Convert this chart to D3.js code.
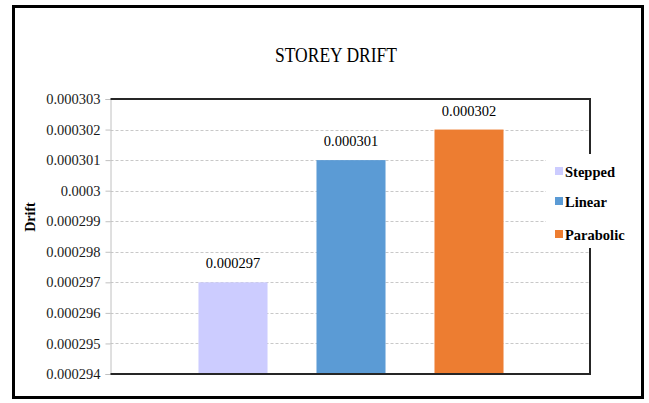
<!DOCTYPE html>
<html>
<head>
<meta charset="utf-8">
<script src="https://cdn.jsdelivr.net/npm/d3@7"></script>
<style>
  html, body { margin: 0; padding: 0; background: #fff; }
  svg { display: block; }
  svg text { font-family: "Liberation Serif", "Times New Roman", serif !important; fill: #000; }
</style>
</head>
<body>
<svg id="chart" width="649" height="403"></svg>
<script>
// Storey drift by profile type
const categories = ["Stepped", "Linear", "Parabolic"];
const drift = [0.000297, 0.000301, 0.000302];
const colors = ["#CCCCFF", "#5B9BD5", "#ED7D31"];
const tickValues = [0.000294, 0.000295, 0.000296, 0.000297, 0.000298, 0.000299, 0.0003, 0.000301, 0.000302, 0.000303];
const labelFmt = d => String(+d.toPrecision(6));

const svg = d3.select("#chart");

// outer frame
svg.append("rect")
  .attr("x", 13.5).attr("y", 6.5).attr("width", 629).attr("height", 391)
  .attr("fill", "#fff").attr("stroke", "#000").attr("stroke-width", 3);

const plot = { left: 110.5, right: 590, top: 99, bottom: 374 };

const y = d3.scaleLinear().domain([0.000294, 0.000303]).range([plot.bottom, plot.top]);
const x = d3.scaleBand().domain(categories).range([174, 528]).paddingInner(0.415).paddingOuter(0.2075);

// title
svg.append("text")
  .attr("x", 336).attr("y", 62)
  .attr("text-anchor", "middle")
  .attr("font-size", 20)
  .attr("textLength", 122).attr("lengthAdjust", "spacingAndGlyphs")
  .text("STOREY DRIFT");

// gridlines
svg.append("g")
  .selectAll("line")
  .data(tickValues.slice(1, -1))
  .join("line")
  .attr("x1", plot.left).attr("x2", plot.right)
  .attr("y1", d => Math.round(y(d)) + 0.5).attr("y2", d => Math.round(y(d)) + 0.5)
  .attr("stroke", "#c8c8c8").attr("stroke-width", 1).attr("stroke-dasharray", "3,2");

// y axis
const yAxis = d3.axisLeft(y).tickValues(tickValues).tickSize(5).tickPadding(5).tickFormat(labelFmt);
const gy = svg.append("g").attr("transform", `translate(${plot.left},0)`).call(yAxis);
gy.select(".domain").attr("stroke", "#c0c0c0");
gy.selectAll(".tick line").attr("stroke", "#c0c0c0");
gy.selectAll(".tick text")
  .style("font-size", "14.5px").style("fill", "#1a1a1a");

// axis title
svg.append("text")
  .attr("transform", "translate(35,217) rotate(-90)")
  .attr("text-anchor", "middle")
  .style("font-size", "14px").style("font-weight", "bold")
  .text("Drift");

// bars
svg.append("g")
  .selectAll("rect")
  .data(categories)
  .join("rect")
  .attr("x", d => x(d))
  .attr("width", x.bandwidth())
  .attr("y", (d, i) => y(drift[i]))
  .attr("height", (d, i) => y(0.000294) - y(drift[i]))
  .attr("fill", (d, i) => colors[i]);

// value labels
svg.append("g")
  .selectAll("text")
  .data(categories)
  .join("text")
  .attr("x", d => x(d) + x.bandwidth() / 2)
  .attr("y", (d, i) => y(drift[i]) - 14)
  .attr("text-anchor", "middle")
  .style("font-size", "14.5px")
  .text((d, i) => labelFmt(drift[i]));

// plot frame: top, right and bottom edges
svg.append("path")
  .attr("d", `M${plot.left},${plot.top}H${plot.right}V${plot.bottom}H${plot.left}`)
  .attr("fill", "none").attr("stroke", "#262626").attr("stroke-width", 2);

// legend
const legend = svg.append("g");
legend.append("rect")
  .attr("x", 546).attr("y", 154).attr("width", 80).attr("height", 94)
  .attr("fill", "#fff");
const rowY = [172, 202, 235];
const item = legend.selectAll("g.item")
  .data(categories)
  .join("g").attr("class", "item")
  .attr("transform", (d, i) => `translate(555,${rowY[i]})`);
item.append("rect")
  .attr("x", 0).attr("y", -5).attr("width", 8).attr("height", 8)
  .attr("fill", (d, i) => colors[i]);
item.append("text")
  .attr("x", 10).attr("y", 4.5)
  .style("font-size", "14.5px").style("font-weight", "bold")
  .text(d => d);
</script>
</body>
</html>
